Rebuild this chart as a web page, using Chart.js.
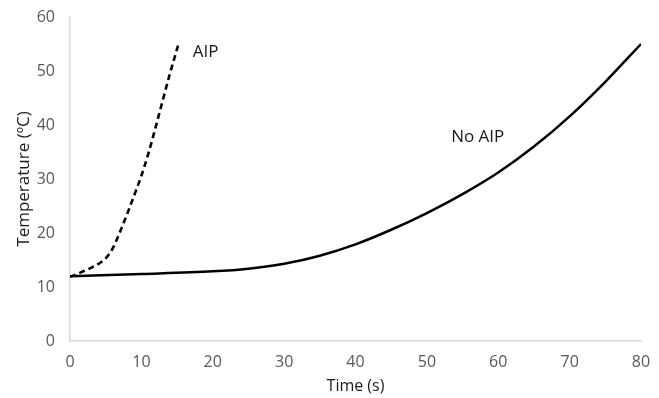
<!DOCTYPE html>
<html>
<head>
<meta charset="utf-8">
<script src="https://cdn.jsdelivr.net/npm/chart.js@4.4.0/dist/chart.umd.min.js"></script>
<style>
    html, body { margin: 0; padding: 0; background: #fff; }
    #wrap { width: 659px; height: 398px; }
</style>
</head>
<body>
<div id="wrap"><canvas id="grafico" width="659" height="398"></canvas></div>
<script>
// Dados
const tempoAIP = [0, 1, 2, 3, 4, 5, 6, 7, 8, 9, 10, 11, 12, 13, 14, 15.2];
const tempAIP = [11.9, 12.4, 13.0, 13.6, 14.3, 15.3, 17.2, 20.2, 23.5, 27, 30.6, 34.8, 39.6, 44.6, 49.5, 55];

const tempoSemAIP = [0, 10, 20, 25, 30, 35, 40, 45, 50, 55, 60, 65, 70, 75, 80];
const tempSemAIP = [12, 12.4, 12.9, 13.4, 14.3, 15.8, 17.9, 20.6, 23.7, 27.2, 31.2, 36.0, 41.6, 48.0, 55];

const rotulos = [
    { texto: "AIP", x: 17.2, y: 53.5 },
    { texto: "No AIP", x: 53.4, y: 37.8 }
];

const FONTE = "'Open Sans', 'DejaVu Sans', sans-serif";

function pontos(xs, ys) {
    return xs.map((x, i) => ({ x: x, y: ys[i] }));
}

// plugin simples para escrever os rótulos das curvas
const pluginRotulos = {
    id: "rotulos",
    afterDatasetsDraw(chart) {
        const ctx = chart.ctx;
        const sx = chart.scales.x;
        const sy = chart.scales.y;
        ctx.save();
        ctx.font = "17px " + FONTE;
        ctx.fillStyle = "#1a1a1a";
        ctx.textAlign = "left";
        ctx.textBaseline = "middle";
        rotulos.forEach(r => {
            ctx.fillText(r.texto, sx.getPixelForValue(r.x), sy.getPixelForValue(r.y));
        });
        ctx.restore();
    }
};

new Chart(document.getElementById("grafico"), {
    type: "scatter",
    data: {
        datasets: [
            {
                label: "AIP",
                data: pontos(tempoAIP, tempAIP),
                showLine: true,
                borderColor: "#000",
                borderWidth: 2.6,
                borderDash: [6, 4],
                pointRadius: 0,
                cubicInterpolationMode: "monotone"
            },
            {
                label: "No AIP",
                data: pontos(tempoSemAIP, tempSemAIP),
                showLine: true,
                borderColor: "#000",
                borderWidth: 2.5,
                pointRadius: 0,
                cubicInterpolationMode: "monotone"
            }
        ]
    },
    options: {
        responsive: false,
        animation: false,
        layout: { padding: { top: 17, right: 18, left: 0, bottom: 0 } },
        plugins: {
            legend: { display: false },
            tooltip: { enabled: false }
        },
        scales: {
            x: {
                type: "linear",
                min: 0,
                max: 80,
                afterFit: s => { s.height = 57; s.paddingLeft = 0; s.paddingRight = 0; },
                grid: { color: "transparent", drawTicks: false },
                border: { display: true, color: "#d9d9d9", width: 1.5 },
                ticks: { stepSize: 10, padding: 12, color: "#595959", font: { family: FONTE, size: 16 } },
                title: { display: true, text: "Time (s)", color: "#1a1a1a", font: { family: FONTE, size: 16 }, padding: { top: 0, bottom: 2 } }
            },
            y: {
                min: 0,
                max: 60,
                afterFit: s => { s.width = 70; s.paddingTop = 0; s.paddingBottom = 0; },
                grid: { color: "transparent", drawTicks: false },
                border: { display: true, color: "#d9d9d9", width: 1.5 },
                ticks: { stepSize: 10, padding: 15, color: "#595959", font: { family: FONTE, size: 16 } },
                title: { display: true, text: "Temperature (ºC)", color: "#1a1a1a", font: { family: FONTE, size: 17 }, padding: { top: 14, bottom: 0 } }
            }
        }
    },
    plugins: [pluginRotulos]
});
</script>
</body>
</html>
